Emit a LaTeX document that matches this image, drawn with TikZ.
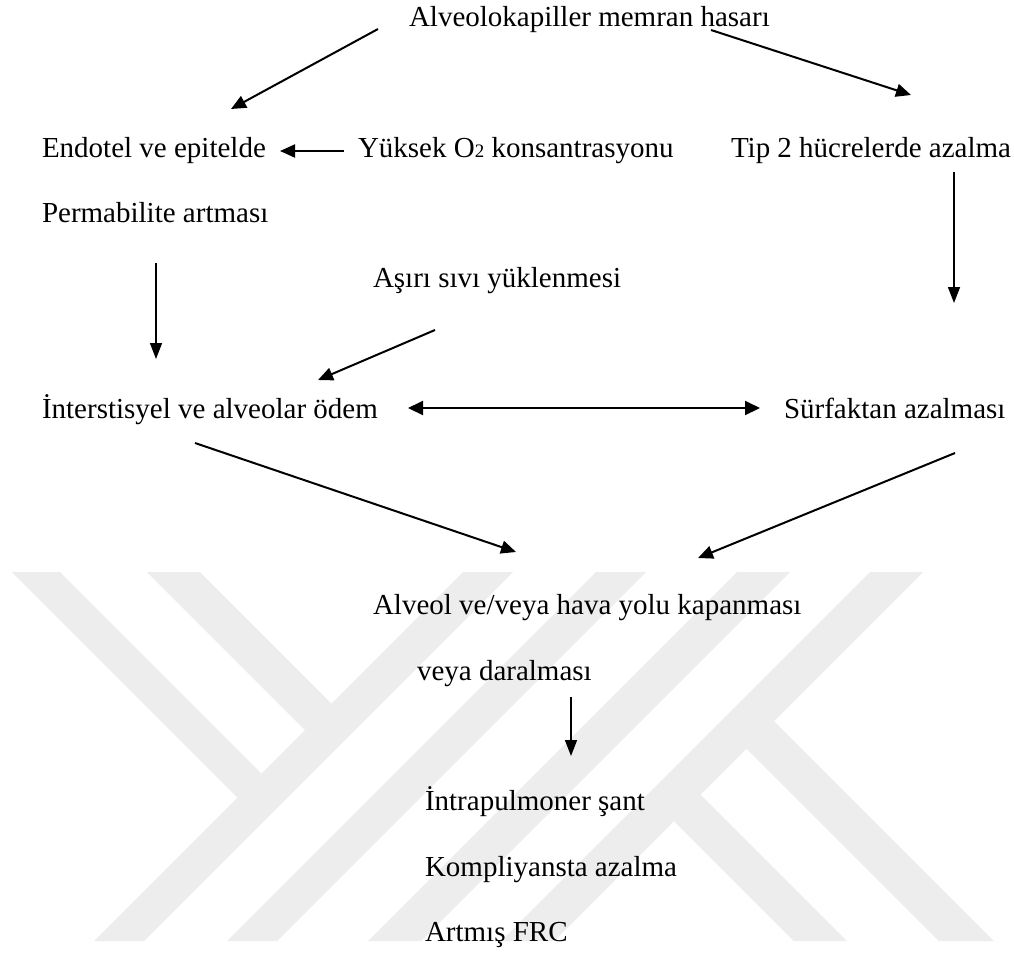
\documentclass[tikz,border=0pt]{standalone}
\usepackage{fontspec}
\setmainfont{Liberation Serif}
\usetikzlibrary{arrows.meta}
\definecolor{wm}{RGB}{237,237,237}
\tikzset{
  lbl/.style={anchor=base west, inner sep=0pt, outer sep=0pt, font=\fontsize{29}{34}\selectfont},
  diag/.style={line width=2pt, -{Triangle[length=15pt,width=13pt]}},
  vert/.style={line width=1.5pt, -{Triangle[length=16pt,width=12pt]}},
  both/.style={line width=2pt, {Triangle[length=15pt,width=14pt]}-{Triangle[length=15pt,width=14pt]}},
  stripe/.style={fill=wm, draw=none}
}
\begin{document}
\begin{tikzpicture}[x=1pt, y={(0pt,-1pt)}]
\useasboundingbox (0,0) rectangle (1014,954);
\fill[white] (0,0) rectangle (1014,954);
% watermark
\fill[stripe] (463,572) -- (513,572) -- (144,941) -- (94,941) -- cycle;
\fill[stripe] (596,572) -- (646,572) -- (277,941) -- (227,941) -- cycle;
\fill[stripe] (12,572) -- (60,572) -- (261.5,773.5) -- (237.5,797.5) -- cycle;
\fill[stripe] (147,572) -- (200,572) -- (331.5,703.5) -- (305,730) -- cycle;
\fill[stripe] (737,572) -- (790,572) -- (421,941) -- (368,941) -- cycle;
\fill[stripe] (870,572) -- (923,572) -- (554,941) -- (501,941) -- cycle;
\fill[stripe] (674,821) -- (700.5,794.5) -- (847,941) -- (794,941) -- cycle;
\fill[stripe] (746.5,748.5) -- (774,721) -- (994,941) -- (939,941) -- cycle;
% texts
\node[lbl] (t1) at (409,26) {Alveolokapiller memran hasarı};
\node[lbl] (t2) at (42,157) {Endotel ve epitelde};
\node[lbl] (t3) at (358,157) {Yüksek O{\fontsize{19}{19}\selectfont 2} konsantrasyonu};
\node[lbl] (t4) at (731,157) {Tip 2 hücrelerde azalma};
\node[lbl] (t5) at (42,222) {Permabilite artması};
\node[lbl] (t6) at (373,287) {Aşırı sıvı yüklenmesi};
\node[lbl] (t7) at (42,418) {İnterstisyel ve alveolar ödem};
\node[lbl] (t8) at (784,418) {Sürfaktan azalması};
\node[lbl] (t9) at (373,614) {Alveol ve/veya hava yolu kapanması};
\node[lbl] (t10) at (417,680) {veya daralması};
\node[lbl] (t11) at (425,810) {İntrapulmoner şant};
\node[lbl] (t12) at (425,876) {Kompliyansta azalma};
\node[lbl] (t13) at (425,941) {Artmış FRC};
% connector end points
\coordinate (a1s) at (378,29);  \coordinate (a1e) at (231,109);
\coordinate (a2s) at (711,30);  \coordinate (a2e) at (911,95);
\coordinate (a3s) at (344,151); \coordinate (a3e) at (280,151);
\coordinate (a4s) at (954,172); \coordinate (a4e) at (954,303);
\coordinate (a5s) at (156,263); \coordinate (a5e) at (156,359);
\coordinate (a6s) at (435,330); \coordinate (a6e) at (318,380);
\coordinate (a7s) at (408,408); \coordinate (a7e) at (760,408);
\coordinate (a8s) at (195,443); \coordinate (a8e) at (516,552);
\coordinate (a9s) at (955,453); \coordinate (a9e) at (698,558);
\coordinate (a10s) at (571,697); \coordinate (a10e) at (571,756);
% connectors
\draw[diag] (a1s) -- (a1e);
\draw[diag] (a2s) -- (a2e);
\draw[diag] (a3s) -- (a3e);
\draw[vert] (a4s) -- (a4e);
\draw[vert] (a5s) -- (a5e);
\draw[diag] (a6s) -- (a6e);
\draw[both] (a7s) -- (a7e);
\draw[diag] (a8s) -- (a8e);
\draw[diag] (a9s) -- (a9e);
\draw[vert] (a10s) -- (a10e);
\end{tikzpicture}
\end{document}
